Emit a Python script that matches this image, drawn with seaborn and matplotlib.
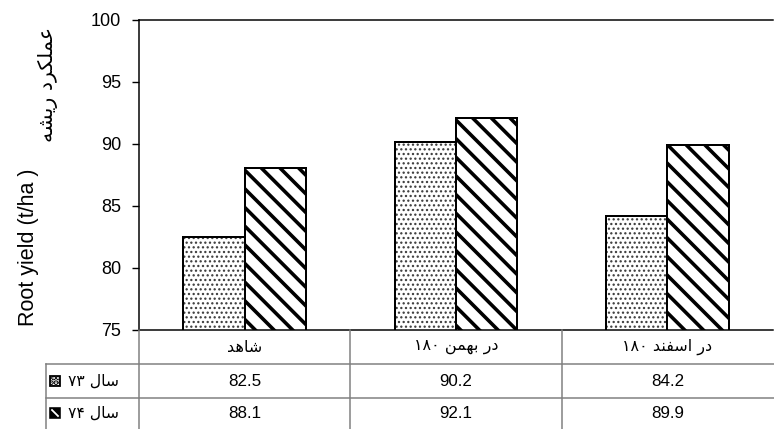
import re
import matplotlib
matplotlib.use("Agg")
import matplotlib.pyplot as plt
from matplotlib.patches import Rectangle
from matplotlib.lines import Line2D
import matplotlib.transforms as mtransforms
import pandas as pd
import seaborn as sns

# ---------------- data ----------------
categories = ['شاهد', 'در بهمن ۱۸۰', 'در اسفند ۱۸۰']
years = ['سال ۷۳', 'سال ۷۴']
yield_73 = [82.5, 90.2, 84.2]
yield_74 = [88.1, 92.1, 89.9]
yticks = [75, 80, 85, 90, 95, 100]
ylabel_en = 'Root yield (t/ha )'
ylabel_fa = 'عملکرد ریشه'

# ---------------- simple Persian shaping (visual order for matplotlib) ----------------
FORMS = {
    'ا': ('\uFE8D', '\uFE8E', None, None),
    'ب': ('\uFE8F', '\uFE90', '\uFE91', '\uFE92'),
    'د': ('\uFEA9', '\uFEAA', None, None),
    'ر': ('\uFEAD', '\uFEAE', None, None),
    'س': ('\uFEB1', '\uFEB2', '\uFEB3', '\uFEB4'),
    'ش': ('\uFEB5', '\uFEB6', '\uFEB7', '\uFEB8'),
    'ع': ('\uFEC9', '\uFECA', '\uFECB', '\uFECC'),
    'ف': ('\uFED1', '\uFED2', '\uFED3', '\uFED4'),
    'ل': ('\uFEDD', '\uFEDE', '\uFEDF', '\uFEE0'),
    'م': ('\uFEE1', '\uFEE2', '\uFEE3', '\uFEE4'),
    'ن': ('\uFEE5', '\uFEE6', '\uFEE7', '\uFEE8'),
    'ه': ('\uFEE9', '\uFEEA', '\uFEEB', '\uFEEC'),
    'ک': ('\uFB8E', '\uFB8F', '\uFB90', '\uFB91'),
    'ی': ('\uFBFC', '\uFBFD', '\uFBFE', '\uFBFF'),
}


def fa(s):
    out = []
    for i, c in enumerate(s):
        if c not in FORMS:
            out.append(c)
            continue
        prev = s[i - 1] if i > 0 else ''
        nxt = s[i + 1] if i + 1 < len(s) else ''
        jp = prev in FORMS and FORMS[prev][2] is not None
        jn = FORMS[c][2] is not None and nxt in FORMS
        iso, fin, ini, med = FORMS[c]
        out.append(med if (jp and jn) else fin if jp else ini if jn else iso)
    vis = ''.join(out)[::-1]
    return re.sub(r'[\u06F0-\u06F90-9]+', lambda m: m.group(0)[::-1], vis)


# ---------------- figure ----------------
DPI = 56
W, H = 774, 429


def pt(px):
    """pixel size -> points at the working dpi"""
    return px * 72.0 / DPI


plt.rcParams['font.family'] = ['Liberation Sans', 'DejaVu Sans']
plt.rcParams['hatch.linewidth'] = pt(3.6)

fig = plt.figure(figsize=(W / DPI, H / DPI), dpi=DPI)
fig.patch.set_facecolor('white')


def fx(px):
    return px / W


def fy(py):
    return 1 - py / H


AX_L, AX_R, AX_T, AX_B = 139, 773, 20, 330
ax = fig.add_axes([fx(AX_L), fy(AX_B), fx(AX_R - AX_L), (AX_B - AX_T) / H])

df = pd.DataFrame({
    'category': categories * 2,
    'year': [years[0]] * 3 + [years[1]] * 3,
    'value': yield_73 + yield_74,
})

sns.barplot(data=df, x='category', y='value', hue='year', order=categories,
            hue_order=years, palette=['white', 'white'], width=0.58,
            edgecolor='black', linewidth=pt(2), legend=False, ax=ax,
            errorbar=None, saturation=1)

# dotted bars (year 73): gray dots + black outline
for p in ax.containers[0]:
    p.set_edgecolor('#3a3a3a')
    p.set_linewidth(0)
    p.set_hatch('..')
    if hasattr(p, 'set_hatch_linewidth'):
        p.set_hatch_linewidth(pt(1.4))
    ax.add_patch(Rectangle((p.get_x(), p.get_y()), p.get_width(), p.get_height(),
                           fill=False, edgecolor='black', linewidth=pt(2), zorder=3))
# striped bars (year 74)
for p in ax.containers[1]:
    p.set_hatch('\\')
    p.set_edgecolor('black')
    if hasattr(p, 'set_hatch_linewidth'):
        p.set_hatch_linewidth(pt(3.6))

ax.set_ylim(75, 100)
ax.set_xlim(-0.5, len(categories) - 0.5)
ax.set_yticks(yticks)
ax.set_yticklabels([str(t) for t in yticks])
ax.tick_params(axis='y', direction='out', length=pt(7), width=pt(1.4), labelsize=pt(18),
               pad=pt(11), colors='black')
ax.tick_params(axis='x', length=0, labelbottom=False)
ax.set_xlabel('')
ax.set_ylabel('')
ax.spines['right'].set_visible(False)
for s in ['left', 'top', 'bottom']:
    ax.spines[s].set_linewidth(pt(1.5))
    ax.spines[s].set_color('black')
ax.set_facecolor('white')

# y labels
fig.text(fx(29), fy(326), ylabel_en, rotation=90, ha='center', va='bottom',
         fontsize=pt(21.5), color='black')
fig.text(fx(48), fy(27), fa(ylabel_fa), rotation=90, ha='center', va='top',
         fontsize=pt(20.5), color='black', family=['DejaVu Sans'])

# ---------------- data table below the axes ----------------
gray = '#7f7f7f'
ROW1, ROW2, ROW3, BOT = 330, 364, 398, 432
LBL_L = 46
trans = mtransforms.blended_transform_factory(ax.transData, fig.transFigure)

# horizontal lines
for yy in [ROW2, ROW3]:
    fig.add_artist(Line2D([fx(LBL_L), fx(W)], [fy(yy), fy(yy)], color=gray, lw=pt(1.5)))
# vertical lines
fig.add_artist(Line2D([fx(AX_L), fx(AX_L)], [fy(ROW1), fy(BOT)], color=gray, lw=pt(1.5)))
fig.add_artist(Line2D([fx(LBL_L), fx(LBL_L)], [fy(ROW2), fy(BOT)], color=gray, lw=pt(1.5)))
for i in range(1, len(categories)):
    fig.add_artist(Line2D([i - 0.5, i - 0.5], [fy(ROW1), fy(BOT)], color=gray,
                          lw=pt(1.5), transform=trans))

# header (category names)
for i, c in enumerate(categories):
    fig.text(i, fy((ROW1 + ROW2) / 2), fa(c), transform=trans, ha='center',
             va='center', fontsize=pt(16), family=['DejaVu Sans'])
# values
ROW_C = [(ROW2 + ROW3) / 2, (ROW3 + BOT) / 2 - 2]
for row_y, vals in zip(ROW_C, [yield_73, yield_74]):
    for i, v in enumerate(vals):
        fig.text(i, fy(row_y), f'{v:.1f}', transform=trans, ha='center', va='center',
                 fontsize=pt(17))

# row labels with legend keys
for k, (yr, row_y) in enumerate(zip(years, ROW_C)):
    x0, y0, s = fx(50), fy(row_y + 5), 10
    if k == 0:
        key = Rectangle((x0, y0), fx(s), s / H, transform=fig.transFigure,
                        facecolor='white', edgecolor='black', linewidth=pt(1.8),
                        hatch='..')
        fig.add_artist(key)
    else:
        key = Rectangle((x0, y0), fx(s), s / H, transform=fig.transFigure,
                        facecolor='black', edgecolor='black', linewidth=pt(1.6))
        fig.add_artist(key)
        fig.add_artist(Line2D([fx(52), fx(58)], [fy(row_y - 3), fy(row_y + 3)],
                              color='white', lw=pt(1.8)))
    fig.text(fx(68), fy(row_y), fa(yr), ha='left', va='center', fontsize=pt(15.6),
             family=['DejaVu Sans'])

fig.savefig('out.png', dpi=DPI, facecolor='white')
